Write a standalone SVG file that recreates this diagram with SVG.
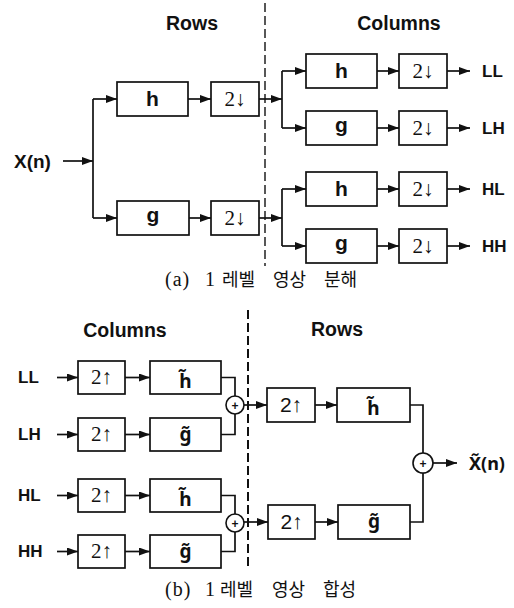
<svg xmlns="http://www.w3.org/2000/svg" width="514" height="608" viewBox="0 0 514 608">
<defs>
<marker id="ah" markerUnits="userSpaceOnUse" markerWidth="11" markerHeight="8" refX="11" refY="4" orient="auto">
<path d="M0,0 L11,4 L0,8 z" fill="#111"/>
</marker>
<style>
.box{fill:#fff;stroke:#111;stroke-width:1.7}
.ln{fill:none;stroke:#111;stroke-width:1.7}
.ar{fill:none;stroke:#111;stroke-width:1.7;marker-end:url(#ah)}
.dash{fill:none;stroke:#111;stroke-dasharray:9 4}
.hd{font-family:"Liberation Sans",Arial,sans-serif;font-weight:bold;font-size:19.5px;fill:#111}
.lb{font-family:"Liberation Sans",Arial,sans-serif;font-weight:bold;font-size:17px;fill:#111}
.fl{font-family:"Liberation Sans",Arial,sans-serif;font-weight:bold;font-size:21px;fill:#111;text-anchor:middle}
.ft{font-family:"Noto Sans","DejaVu Sans",sans-serif;font-weight:bold;font-size:19px;fill:#111;text-anchor:middle}
.sr{font-family:"Liberation Serif","DejaVu Serif",serif;font-size:21px;fill:#111;text-anchor:middle}
.ss{font-family:"Liberation Sans","DejaVu Sans",sans-serif;font-size:21px;fill:#111;text-anchor:middle}
.pl{font-family:"Liberation Sans",Arial,sans-serif;font-weight:bold;font-size:12px;fill:#111;text-anchor:middle}
.cap{font-family:"Liberation Serif","Noto Sans CJK KR",serif;font-size:18px;fill:#111}
.sum{fill:#fff;stroke:#111;stroke-width:1.6}
</style>
</defs>

<!-- headings and captions -->
<text class="hd" x="192" y="30" text-anchor="middle">Rows</text>
<text class="hd" x="399" y="30" text-anchor="middle">Columns</text>
<text class="hd" x="125" y="337" text-anchor="middle">Columns</text>
<text class="hd" x="337" y="336" text-anchor="middle">Rows</text>
<text class="cap" y="286"><tspan x="165" style="font-size:20px;letter-spacing:1px">(a)</tspan><tspan x="205" style="font-size:20px">1</tspan><tspan x="222">레벨</tspan><tspan x="273">영상</tspan><tspan x="324">분해</tspan></text>
<text class="cap" y="596"><tspan x="165" style="font-size:20px;letter-spacing:1px">(b)</tspan><tspan x="205" style="font-size:20px">1</tspan><tspan x="220">레벨</tspan><tspan x="272">영상</tspan><tspan x="323">합성</tspan></text>

<!-- dashed dividers -->
<line class="dash" x1="265" y1="3" x2="265" y2="266" stroke-width="1.4"/>
<line class="dash" x1="248" y1="310" x2="248" y2="570" stroke-width="2"/>

<!-- input / output labels -->
<g id="xin"><text class="hd" x="14" y="168" style="font-size:19px">X(n)</text></g>
<g id="oLL"><text class="lb" x="482" y="77">LL</text></g>
<g id="oLH"><text class="lb" x="482" y="134">LH</text></g>
<g id="oHL"><text class="lb" x="482" y="195">HL</text></g>
<g id="oHH"><text class="lb" x="482" y="252">HH</text></g>
<g id="iLL"><text class="lb" x="18" y="383">LL</text></g>
<g id="iLH"><text class="lb" x="18" y="440">LH</text></g>
<g id="iHL"><text class="lb" x="18" y="501">HL</text></g>
<g id="iHH"><text class="lb" x="18" y="557">HH</text></g>
<g id="xout"><text class="ft" x="469" y="470" style="text-anchor:start;font-size:18px">X̃(n)</text></g>

<!-- analysis: rows -->
<g id="a_h"><rect class="box" x="117" y="82" width="71" height="34"/><text class="fl" x="152.5" y="106">h</text></g>
<g id="a_d1"><rect class="box" x="211" y="82" width="48" height="34"/><text class="sr" x="235" y="106">2↓</text></g>
<g id="a_g"><rect class="box" x="117" y="201" width="72" height="34"/><text class="fl" x="153" y="222">g</text></g>
<g id="a_d2"><rect class="box" x="211" y="201" width="48" height="34"/><text class="sr" x="235" y="225">2↓</text></g>

<!-- analysis: columns -->
<g id="c_h1"><rect class="box" x="306" y="54" width="71" height="34"/><text class="fl" x="341.5" y="78">h</text></g>
<g id="c_d1"><rect class="box" x="399" y="54" width="48" height="34"/><text class="sr" x="423" y="78">2↓</text></g>
<g id="c_g1"><rect class="box" x="306" y="111" width="71" height="34"/><text class="fl" x="341.5" y="132">g</text></g>
<g id="c_d2"><rect class="box" x="399" y="111" width="48" height="34"/><text class="sr" x="423" y="135">2↓</text></g>
<g id="c_h2"><rect class="box" x="306" y="172" width="71" height="34"/><text class="fl" x="341.5" y="196">h</text></g>
<g id="c_d3"><rect class="box" x="399" y="172" width="48" height="34"/><text class="sr" x="423" y="196">2↓</text></g>
<g id="c_g2"><rect class="box" x="306" y="229" width="71" height="34"/><text class="fl" x="341.5" y="250">g</text></g>
<g id="c_d4"><rect class="box" x="399" y="229" width="48" height="34"/><text class="sr" x="423" y="253">2↓</text></g>

<!-- synthesis: columns -->
<g id="s_u1"><rect class="box" x="78" y="361" width="47" height="33"/><text class="sr" x="101.5" y="384">2↑</text></g>
<g id="s_h1"><rect class="box" x="150" y="361" width="71" height="33"/><text class="ft" x="185.5" y="388">h̃</text></g>
<g id="s_u2"><rect class="box" x="78" y="418" width="47" height="33"/><text class="sr" x="101.5" y="441">2↑</text></g>
<g id="s_g1"><rect class="box" x="150" y="418" width="71" height="33"/><text class="ft" x="185.5" y="441">g̃</text></g>
<g id="s_u3"><rect class="box" x="78" y="479" width="47" height="33"/><text class="sr" x="101.5" y="502">2↑</text></g>
<g id="s_h2"><rect class="box" x="150" y="479" width="71" height="33"/><text class="ft" x="185.5" y="506">h̃</text></g>
<g id="s_u4"><rect class="box" x="78" y="535" width="47" height="33"/><text class="sr" x="101.5" y="558">2↑</text></g>
<g id="s_g2"><rect class="box" x="150" y="535" width="71" height="33"/><text class="ft" x="185.5" y="558">g̃</text></g>
<g id="sum1"><circle class="sum" cx="235" cy="405" r="9"/><text class="pl" x="235" y="409.5">+</text></g>
<g id="sum2"><circle class="sum" cx="235" cy="523" r="9"/><text class="pl" x="235" y="527.5">+</text></g>

<!-- synthesis: rows -->
<g id="r_u1"><rect class="box" x="267" y="388" width="48" height="34"/><text class="ss" x="291" y="412">2↑</text></g>
<g id="r_h"><rect class="box" x="337" y="388" width="73" height="34"/><text class="ft" x="373.5" y="415">h̃</text></g>
<g id="r_u2"><rect class="box" x="268" y="505" width="47" height="34"/><text class="ss" x="291.5" y="529">2↑</text></g>
<g id="r_g"><rect class="box" x="338" y="505" width="72" height="34"/><text class="ft" x="374" y="528">g̃</text></g>
<g id="sum3"><circle class="sum" cx="423" cy="463" r="10"/><text class="pl" x="423" y="467.5">+</text></g>

<!-- connectors -->
<g id="connectors">
<path class="ar" d="M63,161 H93"/>
<path class="ln" d="M93,99 V218"/>
<path class="ar" d="M93,99 H117"/>
<path class="ar" d="M93,218 H117"/>
<path class="ar" d="M188,99 H211"/>
<path class="ar" d="M189,218 H211"/>
<path class="ar" d="M259,99 H282"/>
<path class="ar" d="M259,218 H282"/>
<path class="ln" d="M282,71 V128"/>
<path class="ar" d="M282,71 H306"/>
<path class="ar" d="M282,128 H306"/>
<path class="ln" d="M282,189 V246"/>
<path class="ar" d="M282,189 H306"/>
<path class="ar" d="M282,246 H306"/>
<path class="ar" d="M377,71 H399"/>
<path class="ar" d="M377,128 H399"/>
<path class="ar" d="M377,189 H399"/>
<path class="ar" d="M377,246 H399"/>
<path class="ar" d="M447,71 H470"/>
<path class="ar" d="M447,128 H470"/>
<path class="ar" d="M447,189 H470"/>
<path class="ar" d="M447,246 H470"/>

<path class="ar" d="M57,377.5 H78"/>
<path class="ar" d="M125,377.5 H150"/>
<path class="ln" d="M221,377.5 H235 V396"/>
<path class="ar" d="M57,434.5 H78"/>
<path class="ar" d="M125,434.5 H150"/>
<path class="ln" d="M221,434.5 H235 V414"/>
<path class="ar" d="M57,495.5 H78"/>
<path class="ar" d="M125,495.5 H150"/>
<path class="ln" d="M221,495.5 H235 V514"/>
<path class="ar" d="M57,551.5 H78"/>
<path class="ar" d="M125,551.5 H150"/>
<path class="ln" d="M221,551.5 H235 V532"/>
<path class="ar" d="M244,405 H267"/>
<path class="ar" d="M244,522 H268"/>
<path class="ar" d="M315,405 H337"/>
<path class="ar" d="M315,522 H338"/>
<path class="ln" d="M410,405 H423 V453"/>
<path class="ln" d="M410,522 H423 V473"/>
<path class="ar" d="M433,463 H457"/>
</g>
</svg>
